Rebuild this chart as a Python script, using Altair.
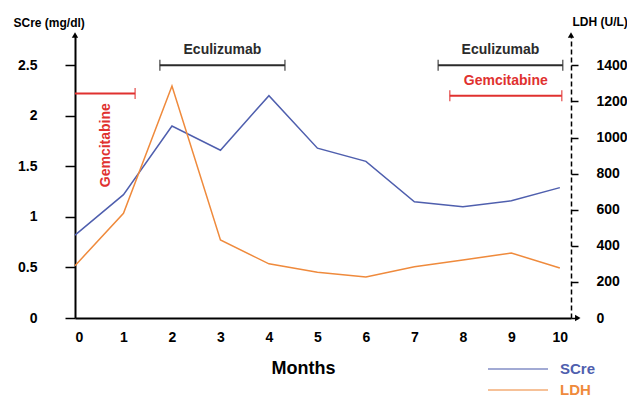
import altair as alt
import pandas as pd

# ---- data ----
months = list(range(11))
scre = [0.82, 1.22, 1.90, 1.66, 2.20, 1.68, 1.55, 1.15, 1.10, 1.16, 1.29]
ldh = [290, 580, 1285, 432, 300, 254, 227, 284, 322, 360, 277]

bar_start = [0, 1.75, 7.49, 7.73]
bar_end = [1.24, 4.33, 10.06, 10.04]
bar_level = [2.22, 2.5, 2.5, 2.2]
bar_color = ["#e0312f", "#2b2b2b", "#2b2b2b", "#e0312f"]
bar_text = ["", "Eculizumab", "Eculizumab", "Gemcitabine"]

cap_x = [1.24, 1.75, 4.33, 7.49, 10.06, 7.73, 10.04]
cap_level = [2.22, 2.5, 2.5, 2.5, 2.5, 2.2, 2.2]
cap_color = ["#e0312f", "#2b2b2b", "#2b2b2b", "#2b2b2b", "#2b2b2b", "#e0312f", "#e0312f"]

vlabel_x = [0.64]
vlabel_y = [1.71]
vlabel_text = ["Gemcitabine"]

BLUE = "#4f5fae"
ORANGE = "#ef8a3c"
FONT = "Liberation Sans"

df = pd.DataFrame({"month": months, "SCre": scre, "LDH": ldh})
bars = pd.DataFrame({"start": bar_start, "end": bar_end, "level": bar_level,
                     "color": bar_color, "text": bar_text,
                     "mid": [(a + b) / 2 for a, b in zip(bar_start, bar_end)]})
caps = pd.DataFrame({"x": cap_x, "level": cap_level, "color": cap_color})
vlab = pd.DataFrame({"x": vlabel_x, "y": vlabel_y, "text": vlabel_text})
arrows = pd.DataFrame({"x": [10.37, 0, 10.23], "y": [0, 2.8, 2.8],
                       "shape": ["triangle-right", "triangle-up", "triangle-up"]})

xs = alt.Scale(domain=[0, 10.23], nice=False, zero=False)
ys = alt.Scale(domain=[0, 2.8], nice=False, zero=False)
ys_r = alt.Scale(domain=[0, 1568], nice=False, zero=False)

x_axis = alt.Axis(values=months, ticks=False, domainColor="black", domainWidth=2,
                  labelFontSize=14, labelFontWeight="bold", labelColor="black",
                  labelFont=FONT, labelPadding=12, grid=False,
                  title="Months", titleFont=FONT, titleFontSize=18, titleFontWeight="bold",
                  titleColor="black", titleX=228, titleY=50, titleBaseline="middle",
                  titleAnchor="start", titleAlign="center")

y_axis = alt.Axis(values=[0, 0.5, 1, 1.5, 2, 2.5], format="~g", domainColor="black",
                  domainWidth=2, tickColor="black", tickSize=10, tickWidth=1.5,
                  labelPadding=28, labelFontSize=14, labelFontWeight="bold",
                  labelColor="black", labelFont=FONT, grid=False,
                  title="SCre (mg/dl)", titleAngle=0, titleAlign="left",
                  titleBaseline="middle", titleX=-62, titleY=-13, titleFontSize=12,
                  titleFontWeight="bold", titleFont=FONT, titleColor="black")

y_axis_r = alt.Axis(values=[0, 200, 400, 600, 800, 1000, 1200, 1400], orient="right",
                    format="d",
                    domainColor="black", domainWidth=1.5, domainDash=[5, 3],
                    tickColor="black", tickSize=7, tickWidth=1.5, labelPadding=18,
                    labelFontSize=14, labelFontWeight="bold", labelColor="black",
                    labelFont=FONT, grid=False,
                    title="LDH (U/L)", titleAngle=0, titleAlign="left",
                    titleBaseline="middle", titleX=1, titleY=-14, titleFontSize=12,
                    titleFontWeight="bold", titleFont=FONT, titleColor="black")

color_scale = alt.Scale(domain=["SCre", "LDH"], range=[BLUE, ORANGE])
legend = alt.Legend(orient="none", legendX=432, legendY=323, title=None,
                    symbolType="M-3,0H3", symbolSize=400, symbolStrokeWidth=1.5,
                    labelFontSize=15, labelFontWeight="bold", labelFont=FONT,
                    labelOffset=31, rowPadding=2,
                    labelColor={"expr": f"datum.label == 'SCre' ? '{BLUE}' : '{ORANGE}'"})

X = lambda f: alt.X(f, scale=xs, axis=x_axis)
Y = lambda f: alt.Y(f, scale=ys, axis=y_axis)

scre_line = alt.Chart(df).mark_line(strokeWidth=1.5).encode(
    x=X("month:Q"),
    y=Y("SCre:Q"),
    color=alt.Color("series:N", scale=color_scale, legend=legend),
).transform_calculate(series="'SCre'")

bar_rules = alt.Chart(bars).mark_rule(strokeWidth=2).encode(
    x=X("start:Q"),
    x2="end:Q",
    y=Y("level:Q"),
    stroke=alt.Stroke("color:N", scale=None),
)
bar_caps = alt.Chart(caps).mark_tick(orient="vertical", size=11, thickness=1.5).encode(
    x=X("x:Q"),
    y=Y("level:Q"),
    color=alt.Color("color:N", scale=None),
)
bar_text_layer = alt.Chart(bars).mark_text(fontSize=14, fontWeight="bold", font=FONT,
                                           dy=-15, baseline="middle").encode(
    x=X("mid:Q"),
    y=Y("level:Q"),
    text="text:N",
    color=alt.Color("color:N", scale=None),
)
vlab_layer = alt.Chart(vlab).mark_text(fontSize=14, fontWeight="bold", font=FONT,
                                       angle=270, color="#e0312f",
                                       baseline="middle", align="center").encode(
    x=X("x:Q"),
    y=Y("y:Q"),
    text="text:N",
)
arrow_layer = alt.Chart(arrows).mark_point(filled=True, size=40, color="black",
                                            opacity=1).encode(
    x=X("x:Q"),
    y=Y("y:Q"),
    shape=alt.Shape("shape:N", scale=None),
)

left = alt.layer(scre_line, bar_rules, bar_caps, bar_text_layer, vlab_layer, arrow_layer)

ldh_line = alt.Chart(df).mark_line(strokeWidth=1.5).encode(
    x=X("month:Q"),
    y=alt.Y("LDH:Q", scale=ys_r, axis=y_axis_r),
    color=alt.Color("series:N", scale=color_scale, legend=legend),
).transform_calculate(series="'LDH'")

chart = alt.layer(left, ldh_line).resolve_scale(y="independent").properties(
    width=496, height=283,
    autosize=alt.AutoSizeParams(type="none"),
    padding={"left": 67, "top": 27, "right": 56, "bottom": 78},
    background="white",
).configure_view(stroke=None)

chart.save("out.html", embed_options={"renderer": "svg", "actions": False})
